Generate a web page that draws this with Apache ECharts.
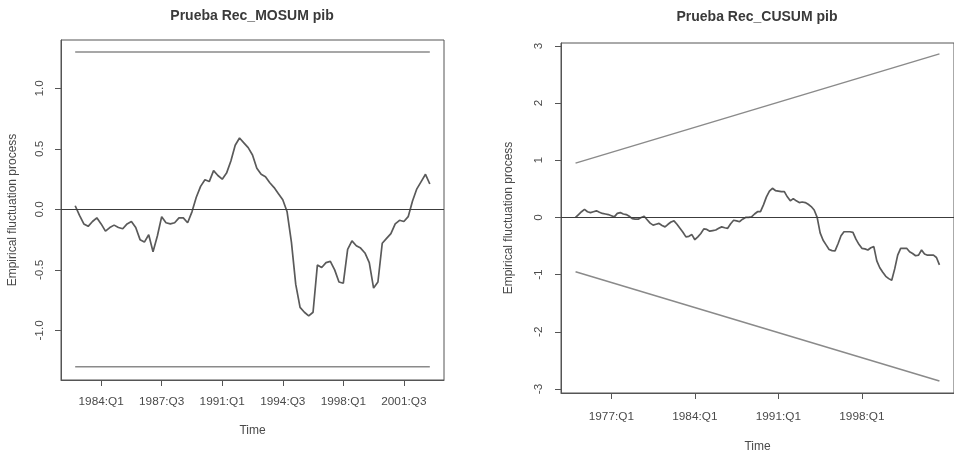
<!DOCTYPE html>
<html>
<head>
<meta charset="utf-8">
<script src="https://cdn.jsdelivr.net/npm/echarts@6/dist/echarts.min.js"></script>
<style>html,body{margin:0;padding:0;background:#fff}#c{width:954px;height:458px}</style>
</head>
<body>
<div id="c"></div>
<script>
// ---------- data ----------
const mosumStart = '1982:Q3';
const mosumValues = [0.03,-0.05,-0.12,-0.14,-0.10,-0.07,-0.12,-0.18,-0.15,-0.13,-0.15,-0.16,-0.12,-0.10,-0.15,-0.25,-0.27,-0.21,-0.35,-0.22,
  -0.06,-0.11,-0.12,-0.11,-0.07,-0.07,-0.11,-0.02,0.10,0.19,0.245,0.23,0.32,0.28,0.25,0.30,0.40,0.53,0.59,0.55,
  0.51,0.45,0.34,0.29,0.27,0.22,0.18,0.13,0.08,-0.02,-0.27,-0.62,-0.81,-0.85,-0.88,-0.85,-0.46,-0.48,-0.44,-0.43,
  -0.50,-0.60,-0.61,-0.33,-0.26,-0.30,-0.32,-0.36,-0.44,-0.65,-0.60,-0.28,-0.24,-0.20,-0.12,-0.09,-0.10,-0.06,0.07,0.17,
  0.23,0.29,0.21];
const mosumBoundary = [1.30, 1.30];
const mosumXTicks = ['1984:Q1','1987:Q3','1991:Q1','1994:Q3','1998:Q1','2001:Q3'];
const mosumYTicks = [-1.0,-0.5,0.0,0.5,1.0];

const cusumStart = '1974:Q1';
const cusumValues = [0.00,0.05,0.10,0.14,0.10,0.085,0.10,0.115,0.09,0.07,0.06,0.05,0.03,0.01,0.07,0.085,0.06,0.05,0.02,-0.02,
  -0.03,-0.03,0.00,0.02,-0.04,-0.10,-0.135,-0.12,-0.105,-0.14,-0.165,-0.12,-0.08,-0.06,-0.12,-0.19,-0.26,-0.34,-0.33,-0.30,
  -0.39,-0.34,-0.28,-0.20,-0.21,-0.24,-0.23,-0.22,-0.19,-0.165,-0.18,-0.19,-0.11,-0.05,-0.06,-0.075,-0.03,0.00,0.00,0.01,
  0.06,0.10,0.10,0.22,0.36,0.46,0.51,0.47,0.46,0.45,0.45,0.36,0.29,0.33,0.29,0.26,0.27,0.26,0.23,0.19,
  0.13,0.00,-0.27,-0.40,-0.48,-0.56,-0.58,-0.585,-0.46,-0.32,-0.25,-0.25,-0.25,-0.26,-0.38,-0.47,-0.54,-0.55,-0.57,-0.53,
  -0.51,-0.76,-0.88,-0.96,-1.03,-1.07,-1.10,-0.90,-0.66,-0.54,-0.54,-0.54,-0.60,-0.63,-0.67,-0.66,-0.57,-0.64,-0.66,-0.66,
  -0.66,-0.70,-0.83];
const cusumBoundary = [0.95, 2.86];
const cusumXTicks = ['1977:Q1','1984:Q1','1991:Q1','1998:Q1'];
const cusumYTicks = [-3,-2,-1,0,1,2,3];

// ---------- helpers ----------
function qToYear(s){ const p = s.split(':Q'); return +p[0] + (+p[1]-1)/4; }
function yearToQ(v){ const y = Math.floor(v + 1e-6); const q = Math.round((v - y)*4) + 1; return y + ':Q' + q; }
function series(start, vals){ const s = qToYear(start); return vals.map((v,i)=>[s + i/4, v]); }

const mosumData = series(mosumStart, mosumValues);
const cusumData = series(cusumStart, cusumValues);
const mX0 = mosumData[0][0], mX1 = mosumData[mosumData.length-1][0];
const cX0 = cusumData[0][0], cX1 = cusumData[cusumData.length-1][0];

const FONT = '"Liberation Sans", Arial, sans-serif';
const TXT = '#4a4a4a';
const LINE = '#5a5a5a';
const BND = '#8a8a8a';

function xAxisCfg(gi, min, max, ticks, gap, margin){
  const vals = ticks.map(qToYear);
  return {
    type:'value', gridIndex:gi, min:min, max:max, name:'Time', nameLocation:'middle', nameGap:gap,
    nameTextStyle:{color:TXT, fontSize:12, fontFamily:FONT},
    splitLine:{show:false},
    axisLine:{show:true, onZero:false, lineStyle:{color:'#555', width:1}},
    axisTick:{show:true, length:6, customValues:vals, lineStyle:{color:'#555'}},
    axisLabel:{customValues:vals, formatter:v=>yearToQ(v), color:TXT, fontSize:11.8, fontFamily:FONT, margin:margin}
  };
}
function yAxisCfg(gi, min, max, ticks, fmt, gap, margin){
  return {
    type:'value', gridIndex:gi, min:min, max:max, name:'Empirical fluctuation process', nameLocation:'middle', nameGap:gap,
    nameTextStyle:{color:TXT, fontSize:12, fontFamily:FONT},
    splitLine:{show:false},
    axisLine:{show:true, lineStyle:{color:'#555', width:1}},
    axisTick:{show:true, length:6, customValues:ticks, lineStyle:{color:'#555'}},
    axisLabel:{customValues:ticks, formatter:fmt, rotate:90, color:TXT, fontSize:11.8, fontFamily:FONT, margin:margin}
  };
}

const chart = echarts.init(document.getElementById('c'), null, {renderer:'canvas'});
chart.setOption({
  animation:false,
  backgroundColor:'#fff',
  title:[
    {text:'Prueba Rec_MOSUM pib', left:247, top:4, textAlign:'center',
     textStyle:{fontSize:14, fontWeight:'bold', color:'#3a3a3a', fontFamily:FONT}},
    {text:'Prueba Rec_CUSUM pib', left:752, top:5, textAlign:'center',
     textStyle:{fontSize:14, fontWeight:'bold', color:'#3a3a3a', fontFamily:FONT}}
  ],
  grid:[
    {left:61, top:40, width:383, height:340, show:true, borderColor:'#555', borderWidth:1, backgroundColor:'transparent'},
    {left:561, top:43, width:396, height:350, show:true, borderColor:'#555', borderWidth:1, backgroundColor:'transparent'}
  ],
  xAxis:[
    xAxisCfg(0, mX0 - 0.04*(mX1-mX0), mX1 + 0.04*(mX1-mX0), mosumXTicks, 45, 16),
    xAxisCfg(1, cX0 - 0.04*(cX1-cX0), cX1 + 0.04*(cX1-cX0), cusumXTicks, 48, 18)
  ],
  yAxis:[
    yAxisCfg(0, -1.41, 1.40, mosumYTicks, v=>v.toFixed(1), 42, 15),
    yAxisCfg(1, -3.07, 3.05, cusumYTicks, v=>String(v), 46, 16)
  ],
  series:[
    {type:'line', xAxisIndex:0, yAxisIndex:0, data:mosumData, showSymbol:false, symbol:'none',
     lineStyle:{color:LINE, width:1.7},
     markLine:{silent:true, symbol:'none', label:{show:false}, lineStyle:{color:'#3c3c3c', width:1.2, type:'solid'}, data:[{yAxis:0}]}},
    {type:'line', xAxisIndex:0, yAxisIndex:0, data:[[mX0, mosumBoundary[0]],[mX1, mosumBoundary[1]]], symbol:'none',
     lineStyle:{color:BND, width:1.5}},
    {type:'line', xAxisIndex:0, yAxisIndex:0, data:[[mX0, -mosumBoundary[0]],[mX1, -mosumBoundary[1]]], symbol:'none',
     lineStyle:{color:BND, width:1.5}},
    {type:'line', xAxisIndex:1, yAxisIndex:1, data:cusumData, showSymbol:false, symbol:'none',
     lineStyle:{color:LINE, width:1.7},
     markLine:{silent:true, symbol:'none', label:{show:false}, lineStyle:{color:'#3c3c3c', width:1.2, type:'solid'}, data:[{yAxis:0}]}},
    {type:'line', xAxisIndex:1, yAxisIndex:1, data:[[cX0, cusumBoundary[0]],[cX1, cusumBoundary[1]]], symbol:'none',
     lineStyle:{color:BND, width:1.5}},
    {type:'line', xAxisIndex:1, yAxisIndex:1, data:[[cX0, -cusumBoundary[0]],[cX1, -cusumBoundary[1]]], symbol:'none',
     lineStyle:{color:BND, width:1.5}}
  ]
});
</script>
</body>
</html>
